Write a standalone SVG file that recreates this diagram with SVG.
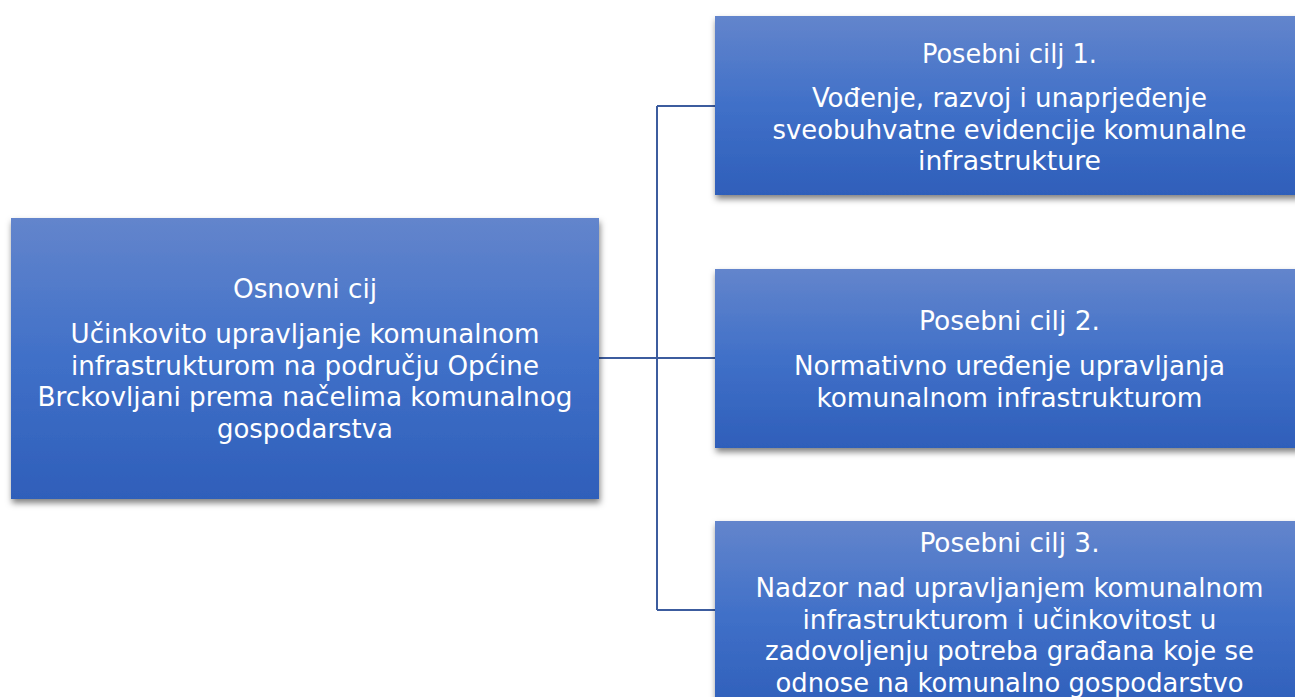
<svg xmlns="http://www.w3.org/2000/svg" width="1295" height="697" viewBox="0 0 1295 697">
<defs>
<linearGradient id="g" x1="0" y1="0" x2="0" y2="1">
<stop offset="0" stop-color="#6385cc"/>
<stop offset="0.5" stop-color="#4070c8"/>
<stop offset="1" stop-color="#2f5fba"/>
</linearGradient>
<filter id="sh" x="-5%" y="-5%" width="112%" height="115%">
<feDropShadow dx="1" dy="4" stdDeviation="3" flood-color="#000" flood-opacity="0.5"/>
</filter>
</defs>
<style>
.box{fill:url(#g);filter:url(#sh);}
.t{font-family:"DejaVu Sans Condensed","DejaVu Sans",sans-serif;font-size:27px;fill:#fff;text-anchor:middle;}
.c{fill:none;stroke:#3c5c9e;stroke-width:2;}
</style>
<rect width="1295" height="697" fill="#fff"/>
<g id="connectors">
<path class="c" d="M599 358H657"/>
<path class="c" d="M657 106V610"/>
<path class="c" d="M657 106H715"/>
<path class="c" d="M657 358H715"/>
<path class="c" d="M657 610H715"/>
</g>
<g id="osnovni">
<rect class="box" x="11" y="218" width="588" height="281"/>
<text class="t" x="305" y="298" textLength="144" lengthAdjust="spacingAndGlyphs">Osnovni cij</text>
<text class="t" x="305" y="343" textLength="469" lengthAdjust="spacingAndGlyphs">Učinkovito upravljanje komunalnom</text>
<text class="t" x="305" y="374.5" textLength="468" lengthAdjust="spacingAndGlyphs">infrastrukturom na području Općine</text>
<text class="t" x="305" y="406" textLength="535" lengthAdjust="spacingAndGlyphs">Brckovljani prema načelima komunalnog</text>
<text class="t" x="305" y="437.5" textLength="176" lengthAdjust="spacingAndGlyphs">gospodarstva</text>
</g>
<g id="cilj1">
<rect class="box" x="715" y="16" width="590" height="179"/>
<text class="t" x="1009.5" y="63" textLength="175" lengthAdjust="spacingAndGlyphs">Posebni cilj 1.</text>
<text class="t" x="1009.5" y="107" textLength="395" lengthAdjust="spacingAndGlyphs">Vođenje, razvoj i unaprjeđenje</text>
<text class="t" x="1009.5" y="138.5" textLength="474" lengthAdjust="spacingAndGlyphs">sveobuhvatne evidencije komunalne</text>
<text class="t" x="1009.5" y="170" textLength="183" lengthAdjust="spacingAndGlyphs">infrastrukture</text>
</g>
<g id="cilj2">
<rect class="box" x="715" y="269" width="590" height="179"/>
<text class="t" x="1009.5" y="330" textLength="181" lengthAdjust="spacingAndGlyphs">Posebni cilj 2.</text>
<text class="t" x="1009.5" y="374.5" textLength="431" lengthAdjust="spacingAndGlyphs">Normativno uređenje upravljanja</text>
<text class="t" x="1009.5" y="406.5" textLength="386" lengthAdjust="spacingAndGlyphs">komunalnom infrastrukturom</text>
</g>
<g id="cilj3">
<rect class="box" x="715" y="521" width="590" height="190"/>
<text class="t" x="1009.5" y="552" textLength="180" lengthAdjust="spacingAndGlyphs">Posebni cilj 3.</text>
<text class="t" x="1009.5" y="597" textLength="508" lengthAdjust="spacingAndGlyphs">Nadzor nad upravljanjem komunalnom</text>
<text class="t" x="1009.5" y="628.5" textLength="414" lengthAdjust="spacingAndGlyphs">infrastrukturom i učinkovitost u</text>
<text class="t" x="1009.5" y="660" textLength="489" lengthAdjust="spacingAndGlyphs">zadovoljenju potreba građana koje se</text>
<text class="t" x="1009.5" y="691.5" textLength="468" lengthAdjust="spacingAndGlyphs">odnose na komunalno gospodarstvo</text>
</g>
</svg>
